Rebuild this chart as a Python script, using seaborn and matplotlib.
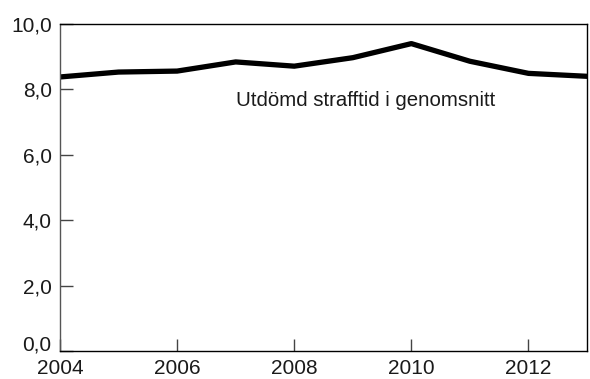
import matplotlib
matplotlib.use("Agg")
import matplotlib.pyplot as plt
import matplotlib.transforms as mtransforms
import seaborn as sns
import pandas as pd

years = [2004, 2005, 2006, 2007, 2008, 2009, 2010, 2011, 2012, 2013]
values = [8.38, 8.53, 8.56, 8.84, 8.71, 8.97, 9.40, 8.86, 8.49, 8.40]
xticks = [2004, 2006, 2008, 2010, 2012]
yticks = [0, 2, 4, 6, 8, 10]
ytick_labels = ["0,0", "2,0", "4,0", "6,0", "8,0", "10,0"]
label = "Utdömd strafftid i genomsnitt"

sns.set_style("white")
plt.rcParams['font.family'] = ['Liberation Sans', 'DejaVu Sans']

df = pd.DataFrame({"year": years, "value": values})
fig = plt.figure(figsize=(5.9, 3.79), dpi=100)
ax = fig.add_axes([0.1017, 0.0739, 0.8933, 0.8628])
sns.lineplot(data=df, x="year", y="value", ax=ax, color="black", linewidth=3.8)

ax.set_xlim(2004, 2013)
ax.set_ylim(0, 10)
ax.set_xticks(xticks)
ax.set_xticklabels([str(t) for t in xticks])
ax.set_yticks(yticks)
ax.set_yticklabels(ytick_labels)
ax.set_xlabel("")
ax.set_ylabel("")
ax.tick_params(axis='both', direction='in', length=9, width=1, colors='#444444',
               labelcolor='#1a1a1a', labelsize=15, bottom=True, left=True)
ax.tick_params(axis='y', pad=6)
ax.tick_params(axis='x', pad=6)
for s in ['top', 'bottom', 'right']:
    ax.spines[s].set_color('black')
    ax.spines[s].set_linewidth(1.0)
ax.spines['left'].set_color('#555555')
ax.spines['left'].set_linewidth(1.0)

# lift the "0,0" label slightly as in the reference
lbl0 = ax.get_yticklabels()[0]
lbl0.set_transform(lbl0.get_transform() + mtransforms.ScaledTranslation(0, 8/100, fig.dpi_scale_trans))

ax.text(2007.0, 7.65, label, fontsize=14.7, color='#1a1a1a', ha='left', va='center')

fig.savefig("out.png", dpi=100)
